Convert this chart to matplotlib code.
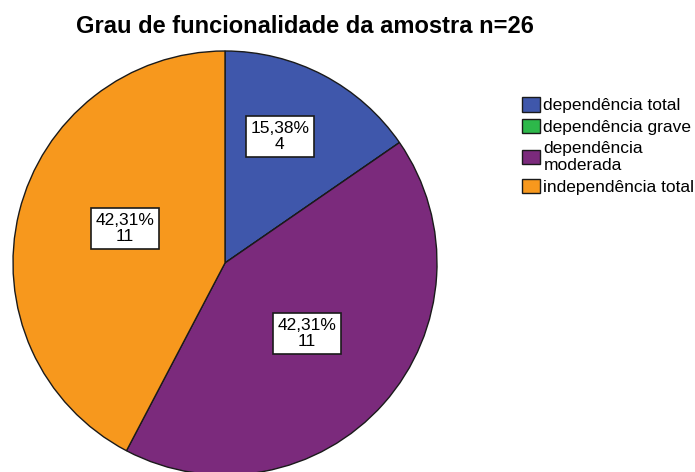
import matplotlib
matplotlib.use("Agg")
import matplotlib.pyplot as plt
import numpy as np
from matplotlib.patches import Patch

categories = ["dependência total", "dependência grave", "dependência\nmoderada", "independência total"]
counts = [4, 0, 11, 11]
colors = ["#3F57AB", "#2DB84A", "#7B2A7C", "#F7981D"]
label_dist = [0.65, 0.5, 0.51, 0.5]
label_shift_deg = [4.2, 0.0, 1.0, -5.2]

plt.rcParams['font.family'] = ['Liberation Sans', 'DejaVu Sans']

fig = plt.figure(figsize=(6.95, 4.72), dpi=100)
ax = fig.add_axes([13/695, -3/472, 424/695, 424/472])
wedges, _ = ax.pie(counts, colors=colors, startangle=90, counterclock=False,
                   wedgeprops=dict(edgecolor="#1a1a1a", linewidth=1.0))
ax.set_aspect('equal')
ax.set_xlim(-1, 1)
ax.set_ylim(-1, 1)

total = sum(counts)
for w, c, d, s in zip(wedges, counts, label_dist, label_shift_deg):
    if c == 0:
        continue
    ang = np.deg2rad((w.theta1 + w.theta2) / 2 + s)
    x, y = d * np.cos(ang), d * np.sin(ang)
    pct = f"{100*c/total:.2f}".replace(".", ",")
    ax.text(x, y, f"{pct}%\n{c}", ha="center", va="center", fontsize=12.5,
            linespacing=1.1,
            bbox=dict(boxstyle="square,pad=0.27", fc="white", ec="#1a1a1a", lw=1.2))

fig.text(305/695, 1 - 33/472, "Grau de funcionalidade da amostra n=26", ha="center", va="baseline",
         fontsize=17, fontweight="bold")

handles = [Patch(facecolor=col, edgecolor="#1a1a1a", label=lab) for col, lab in zip(colors, categories)]
leg = fig.legend(handles=handles, loc="upper left", bbox_to_anchor=(522/695, 1 - 97/472), frameon=False,
                 fontsize=12.5, handlelength=1.03, handleheight=0.92, handletextpad=0.2,
                 labelspacing=0.32, borderaxespad=0, borderpad=0)

fig.savefig("out.png", dpi=100)
